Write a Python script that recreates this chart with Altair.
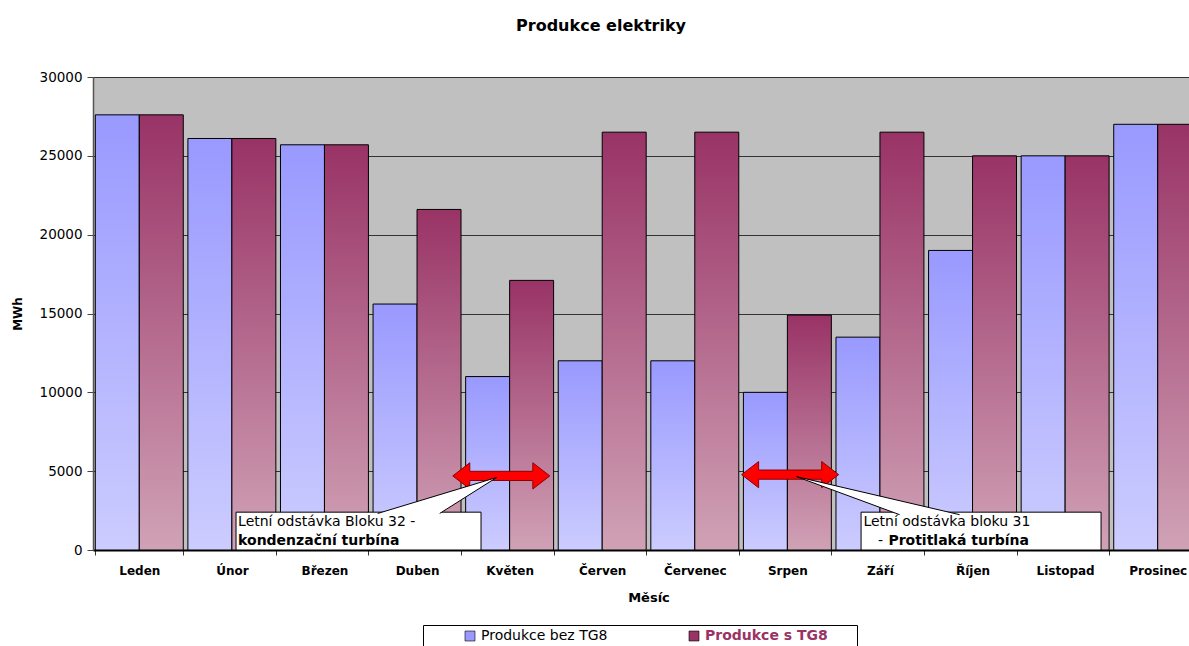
import altair as alt
import pandas as pd

# ---- data -------------------------------------------------------------
months = ["Leden", "Únor", "Březen", "Duben", "Květen", "Červen",
          "Červenec", "Srpen", "Září", "Říjen", "Listopad", "Prosinec"]
prod_bez_tg8 = [27600, 26100, 25700, 15600, 11000, 12000,
                12000, 10000, 13500, 19000, 25000, 27000]
prod_s_tg8 = [27600, 26100, 25700, 21600, 17100, 26500,
              26500, 14900, 26500, 25000, 25000, 27000]
series_names = ["Produkce bez TG8", "Produkce s TG8"]
series_colors = ["#9999FF", "#993366"]

# callouts (x in month units: month i spans [i, i+1]; y in MWh)
arrow_x = [4.41, 7.53]
arrow_y = [4700, 4780]
box_x = [1.545, 8.296]
box_x2 = [4.191, 10.888]
box_top = [2400, 2400]
box_bottom = [0, 0]
pointer_x = [4.36, 7.60]
pointer_y = [4600, 4650]
note_text = ["Letní odstávka Bloku 32 -", "Letní odstávka bloku 31", "-"]
note_x = [1.567, 8.321, 8.479]
note_y = [1800, 1800, 590]
note_bold_text = ["kondenzační turbína", "Protitlaká turbína"]
note_bold_x = [1.567, 8.591]
note_bold_y = [590, 590]

FONT = "DejaVu Sans"
X_RANGE = [0, 1111]

bars_df = pd.DataFrame({
    "month": months * 2,
    "series": [series_names[0]] * len(months) + [series_names[1]] * len(months),
    "value": prod_bez_tg8 + prod_s_tg8,
})

y_scale = alt.Scale(domain=[0, 30000], nice=False)
y_axis = alt.Axis(
    title="MWh", values=[0, 5000, 10000, 15000, 20000, 25000, 30000],
    format="d", labelFontSize=13.5, labelColor="black", labelPadding=5,
    tickSize=6, tickColor="#444444", domainColor="#555555", domainWidth=1.5,
    grid=True, gridColor="#333333", gridWidth=1,
    titleFontSize=12, titleFontWeight="bold", titlePadding=15, titleColor="black",
)
x_axis = alt.Axis(
    title="Měsíc", labelAngle=0, labelFontSize=12, labelFontWeight="bold",
    labelColor="black", labelPadding=10, tickSize=5, tickColor="#333333",
    tickBand="extent", domainColor="black", domainWidth=2, grid=False,
    titleFontSize=13, titleFontWeight="bold", titlePadding=15, titleColor="black",
)
x_enc = alt.X("month:N", sort=months, axis=x_axis,
              scale=alt.Scale(range=X_RANGE, paddingInner=0.05, paddingOuter=0.025))
xoff_enc = alt.XOffset("series:N", sort=series_names,
                       scale=alt.Scale(domain=series_names, paddingInner=0, paddingOuter=0))
y_enc = alt.Y("value:Q", scale=y_scale, axis=y_axis)


def gradient(top, bottom):
    return alt.Gradient(
        gradient="linear", x1=0, x2=0, y1=0, y2=1,
        stops=[alt.GradientStop(color=top, offset=0),
               alt.GradientStop(color=bottom, offset=1)],
    )


base = alt.Chart(bars_df)

bar_bez = base.transform_filter(
    alt.datum.series == series_names[0]
).mark_bar(
    fill=gradient("#9999FF", "#CCCCFF"), stroke="black", strokeWidth=1
).encode(x=x_enc, xOffset=xoff_enc, y=y_enc)

bar_s = base.transform_filter(
    alt.datum.series == series_names[1]
).mark_bar(
    fill=gradient("#993366", "#D0A2B6"), stroke="black", strokeWidth=1
).encode(x=x_enc, xOffset=xoff_enc, y=y_enc)

# legend carrier (draws nothing itself); the white right-hand title only
# widens the legend frame on its right side
legend_layer = base.transform_filter("false").mark_bar().encode(
    x=x_enc, xOffset=xoff_enc, y=y_enc,
    color=alt.Color(
        "series:N",
        scale=alt.Scale(domain=series_names, range=series_colors),
        legend=alt.Legend(
            title="MM", titleOrient="right", titleColor="white",
            titleFont=FONT, titleFontSize=14, titleFontWeight="normal", titlePadding=0,
            orient="none", legendX=330, legendY=548,
            direction="horizontal", symbolType="square", symbolSize=100,
            symbolStrokeColor="black", symbolStrokeWidth=0.6,
            labelFont=FONT, labelFontSize=14, labelOffset=4, labelLimit=400,
            labelColor={"expr": "datum.value == 'Produkce s TG8' ? '#993366' : '#000000'"},
            labelFontWeight={"expr": "datum.value == 'Produkce s TG8' ? 'bold' : 'normal'"},
            strokeColor="black", fillColor="white", padding=4,
            symbolOffset=36, columnPadding=43,
        ),
    ),
)

bars = alt.layer(legend_layer, bar_bez, bar_s)

# ---- callouts ---------------------------------------------------------
ax_scale = alt.Scale(domain=[0, 12], range=X_RANGE, nice=False, zero=False)

arrow_df = pd.DataFrame({"ax": arrow_x, "value": arrow_y})
box_df = pd.DataFrame({"ax": box_x, "ax2": box_x2, "value": box_top, "value2": box_bottom})
pointer_df = pd.DataFrame({"ax": pointer_x, "value": pointer_y, "id": ["a", "b"]})
note_df = pd.DataFrame({"ax": note_x, "value": note_y, "t": note_text})
note_bold_df = pd.DataFrame({"ax": note_bold_x, "value": note_bold_y, "t": note_bold_text})

ARROW = ("M-1,0L-0.65,-0.27L-0.65,-0.095L0.65,-0.095L0.65,-0.27L1,0"
         "L0.65,0.27L0.65,0.095L-0.65,0.095L-0.65,0.27Z")
POINTER_A = "M-1.19,0.36L0,0L-0.57,0.36"
POINTER_B = "M1.03,0.38L0,0L1.63,0.38"

arrows = alt.Chart(arrow_df).mark_point(
    shape=ARROW, size=9409, filled=True, fill="#FF0000",
    stroke="#8B0000", strokeWidth=1, opacity=1,
).encode(x=alt.X("ax:Q", scale=ax_scale, axis=None), y=alt.Y("value:Q", scale=y_scale, axis=y_axis))

boxes = alt.Chart(box_df).mark_rect(fill="white", stroke="black", strokeWidth=1).encode(
    x=alt.X("ax:Q", scale=ax_scale, axis=None), x2="ax2:Q",
    y=alt.Y("value:Q", scale=y_scale, axis=y_axis), y2="value2:Q",
)

pointers = alt.Chart(pointer_df).mark_point(
    size=40000, filled=True, fill="white", stroke="black", strokeWidth=1, opacity=1,
).encode(
    x=alt.X("ax:Q", scale=ax_scale, axis=None),
    y=alt.Y("value:Q", scale=y_scale, axis=y_axis),
    shape=alt.Shape("id:N", scale=alt.Scale(domain=["a", "b"], range=[POINTER_A, POINTER_B]),
                    legend=None),
)

notes = alt.Chart(note_df).mark_text(
    align="left", baseline="middle", font=FONT, fontSize=14, color="black",
).encode(x=alt.X("ax:Q", scale=ax_scale, axis=None),
         y=alt.Y("value:Q", scale=y_scale, axis=y_axis), text="t:N")

notes_bold = alt.Chart(note_bold_df).mark_text(
    align="left", baseline="middle", font=FONT, fontSize=14, fontWeight="bold", color="black",
).encode(x=alt.X("ax:Q", scale=ax_scale, axis=None),
         y=alt.Y("value:Q", scale=y_scale, axis=y_axis), text="t:N")

callouts = alt.layer(arrows, boxes, pointers, notes, notes_bold)

chart = alt.layer(bars, callouts).resolve_scale(x="independent").properties(
    width=1096, height=473,
    title=alt.Title("Produkce elektriky", font=FONT, fontSize=16, fontWeight="bold",
                    color="black", anchor="middle", dx=-40, offset=36),
    padding={"left": 93, "top": 77, "right": 0, "bottom": 96},
    autosize=alt.AutoSizeParams(type="none"),
    background="white",
).configure(font=FONT).configure_view(
    fill="#C0C0C0", stroke="#808080", strokeWidth=1
).configure_axis(labelFont=FONT, titleFont=FONT)

chart.save("out.html", embed_options={"renderer": "svg", "actions": False})
